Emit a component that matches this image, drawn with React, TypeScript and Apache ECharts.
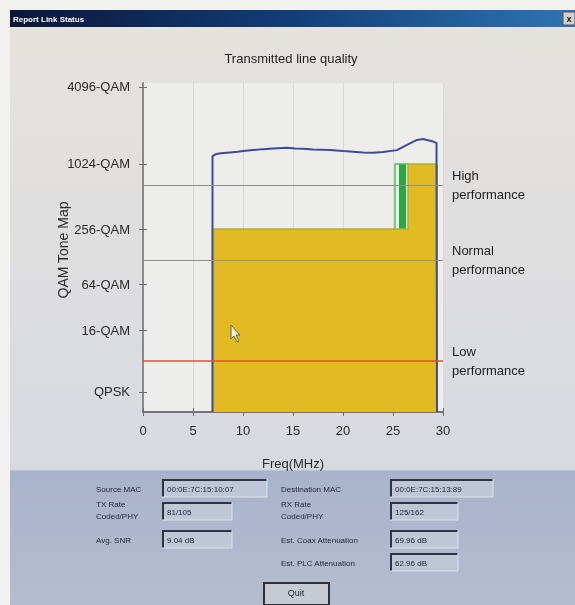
import React, { useEffect, useRef } from "react";
import * as echarts from "echarts";

// ---- data ----
const qamLabels = ["QPSK", "16-QAM", "64-QAM", "256-QAM", "1024-QAM", "4096-QAM"];
// position of each modulation level on the tone-map scale (0..100)
const qamAxisValues = [6.1, 24.9, 38.9, 55.6, 75.4, 98.8];
const xTicks = [0, 5, 10, 15, 20, 25, 30];

// capacity curve (blue)
const capacityFreq = [6.95, 6.95, 7.3, 8, 8.7, 9.5, 10, 11, 12, 13, 14.4, 15.2, 16, 17, 18.7, 20, 21, 22, 23, 24, 25.4, 26.4, 27.4, 28, 29, 29.35, 29.4];
const capacityLevel = [0, 77.8, 78.4, 78.7, 78.9, 79.1, 79.3, 79.6, 79.9, 80.1, 80.3, 80.1, 80.0, 79.8, 79.6, 79.3, 79.1, 78.9, 78.8, 79.0, 79.6, 81.2, 82.7, 83.0, 82.2, 81.8, 0];

// transmitted tone map (yellow)
const toneFreq = [6.95, 6.95, 26.5, 26.5, 29.4, 29.4];
const toneLevel = [0, 55.6, 55.6, 75.4, 75.4, 0];

// green carriers
const greenFreq = [25.6, 25.6, 26.3, 26.3];
const greenLevel = [0, 75.4, 75.4, 0];
const greenEdgeFreq = [25.2, 25.2, 26.5];
const greenEdgeLevel = [55.6, 75.4, 75.4];

// performance thresholds
const thresholdNames = ["High\nperformance", "Normal\nperformance", "Low\nperformance"];
const thresholdLevels = [69.0, 46.2, 15.5];

// status fields
const leftFieldLabels = ["Source MAC", "TX Rate\nCoded/PHY", "Avg. SNR"];
const leftFieldValues = ["00:0E:7C:15:10:07", "81/105", "9.04 dB"];
const rightFieldLabels = ["Destination MAC", "RX Rate\nCoded/PHY", "Est. Coax Attenuation", "Est. PLC Attenuation"];
const rightFieldValues = ["00:0E:7C:15:13:89", "125/162", "69.96 dB", "62.96 dB"];

const zip = (xs: number[], ys: number[]) => xs.map((x, i) => [x, ys[i]]);

const FONT = "Liberation Sans, Arial, sans-serif";

function sunkenBox(x: number, y: number, w: number, h: number, text: string) {
  return [
    { type: "rect", z: -50, shape: { x, y, width: w, height: h }, style: { fill: "#BEC6D8" } },
    { type: "line", z: -49, shape: { x1: x, y1: y + 1, x2: x + w, y2: y + 1 }, style: { stroke: "#2C3446", lineWidth: 2 } },
    { type: "line", z: -49, shape: { x1: x + 1, y1: y, x2: x + 1, y2: y + h }, style: { stroke: "#2C3446", lineWidth: 2 } },
    { type: "line", z: -49, shape: { x1: x, y1: y + h, x2: x + w, y2: y + h }, style: { stroke: "#DDE2EC", lineWidth: 1 } },
    { type: "line", z: -49, shape: { x1: x + w, y1: y, x2: x + w, y2: y + h }, style: { stroke: "#DDE2EC", lineWidth: 1 } },
    { type: "text", z: -48, x: x + 5, y: y + h / 2 + 1, style: { text, fill: "#20263A", font: `8px ${FONT}`, verticalAlign: "middle" } },
  ];
}

export default function App() {
  const ref = useRef<HTMLDivElement>(null);
  useEffect(() => {
    if (!ref.current) return;
    const chart = echarts.init(ref.current, undefined, { renderer: "svg" });

    const labelFor = (v: number) => {
      const i = qamAxisValues.findIndex((q) => Math.abs(q - v) < 0.01);
      return i >= 0 ? qamLabels[i] : "";
    };

    const graphics: any[] = [
      { type: "rect", z: -100, shape: { x: 0, y: 0, width: 575, height: 605 }, style: { fill: "#F1F1F0" } },
      {
        type: "rect", z: -99, shape: { x: 10, y: 10, width: 565, height: 595 },
        style: {
          fill: new echarts.graphic.LinearGradient(0, 0, 0, 1, [
            { offset: 0, color: "#E6E3DE" },
            { offset: 0.75, color: "#D8DAE0" },
            { offset: 1, color: "#D2D6E0" },
          ]),
        },
      },
      {
        type: "rect", z: -98, shape: { x: 10, y: 10, width: 565, height: 17 },
        style: {
          fill: new echarts.graphic.LinearGradient(0, 0, 1, 0, [
            { offset: 0, color: "#0B1638" },
            { offset: 0.5, color: "#123E78" },
            { offset: 1, color: "#2E74B4" },
          ]),
        },
      },
      { type: "text", z: -97, x: 13, y: 19, style: { text: "Report Link Status", fill: "#FFFFFF", font: `bold 8px ${FONT}`, verticalAlign: "middle" } },
      { type: "rect", z: -97, shape: { x: 563, y: 12, width: 12, height: 13 }, style: { fill: "#D0D0D0", stroke: "#555", lineWidth: 1 } },
      { type: "text", z: -96, x: 569, y: 19, style: { text: "x", fill: "#111", font: `bold 9px ${FONT}`, align: "center", verticalAlign: "middle" } },
      // bottom panel
      {
        type: "rect", z: -90, shape: { x: 10, y: 470, width: 565, height: 135 },
        style: {
          fill: new echarts.graphic.LinearGradient(0, 0, 0, 1, [
            { offset: 0, color: "#A9B3CB" },
            { offset: 1, color: "#B4BCCF" },
          ]),
        },
      },
      { type: "line", z: -89, shape: { x1: 10, y1: 470, x2: 575, y2: 470 }, style: { stroke: "#C8D4DC", lineWidth: 1 } },
      // y axis name
      {
        type: "text", z: 10, x: 63, y: 250, rotation: Math.PI / 2,
        style: { text: "QAM Tone Map", fill: "#2A2A2A", font: `14px ${FONT}`, align: "center", verticalAlign: "middle" },
      },
      // cursor
      {
        type: "polygon", z: 20,
        shape: { points: [[231, 325], [231, 339], [234, 336], [237, 342], [239, 341], [236, 335], [240, 335]] },
        style: { fill: "#F4EFD8", stroke: "#6A6040", lineWidth: 1 },
      },
      // quit button
      { type: "rect", z: -50, shape: { x: 264, y: 583, width: 65, height: 22 }, style: { fill: "#C6CAD4", stroke: "#2C3038", lineWidth: 2 } },
      { type: "text", z: -49, x: 296, y: 593, style: { text: "Quit", fill: "#1E2230", font: `9px ${FONT}`, align: "center", verticalAlign: "middle" } },
    ];

    const leftBoxes = [
      { ly: 489, by: 479, w: 105 },
      { ly: 510, by: 502, w: 70 },
      { ly: 540, by: 530, w: 70 },
    ];
    leftFieldLabels.forEach((t, i) => {
      graphics.push({ type: "text", z: -50, x: 96, y: leftBoxes[i].ly, style: { text: t, fill: "#1E2438", font: `8px ${FONT}`, verticalAlign: "middle", lineHeight: 12 } });
      graphics.push(...sunkenBox(162, leftBoxes[i].by, leftBoxes[i].w, 18, leftFieldValues[i]));
    });
    const rightBoxes = [
      { ly: 489, by: 479, w: 103 },
      { ly: 510, by: 502, w: 68 },
      { ly: 540, by: 530, w: 68 },
      { ly: 563, by: 553, w: 68 },
    ];
    rightFieldLabels.forEach((t, i) => {
      graphics.push({ type: "text", z: -50, x: 281, y: rightBoxes[i].ly, style: { text: t, fill: "#1E2438", font: `8px ${FONT}`, verticalAlign: "middle", lineHeight: 12 } });
      graphics.push(...sunkenBox(390, rightBoxes[i].by, rightBoxes[i].w, 18, rightFieldValues[i]));
    });

    const axisLabelStyle = { color: "#2A2A2A", fontSize: 13, fontFamily: FONT };

    chart.setOption({
      animation: false,
      textStyle: { fontFamily: FONT },
      title: {
        text: "Transmitted line quality",
        left: 286,
        textAlign: "center",
        top: 47,
        textStyle: { fontSize: 13, fontWeight: "normal", color: "#1E1E1E", fontFamily: FONT },
      },
      graphic: graphics,
      grid: {
        left: 143, right: 132, top: 83, bottom: 193,
        show: true, backgroundColor: "#EDEDEB", borderWidth: 0,
      },
      xAxis: [
        {
          type: "value", min: 0, max: 30, interval: 5,
          axisLine: { show: true, lineStyle: { color: "#6E6E6E", width: 1.5 } },
          axisTick: { show: true, inside: true, length: 4, lineStyle: { color: "#6E6E6E" } },
          axisLabel: { ...axisLabelStyle, margin: 12, formatter: (v: number) => (xTicks.includes(v) ? String(v) : "") },
          splitLine: { show: true, lineStyle: { color: "#D9D9D9", width: 1 } },
          name: "Freq(MHz)", nameLocation: "middle", nameGap: 45,
          nameTextStyle: { color: "#2A2A2A", fontSize: 13, fontFamily: FONT },
        },
        {
          type: "value", min: 0, max: 30, interval: 5, position: "top",
          axisLine: { show: true, lineStyle: { color: "#6E6E6E", width: 1.5 } },
          axisTick: { show: true, inside: true, length: 4, lineStyle: { color: "#6E6E6E" } },
          axisLabel: { show: false },
          splitLine: { show: false },
        },
      ],
      yAxis: [
        {
          type: "value", min: 0, max: 100,
          axisLine: { show: true, lineStyle: { color: "#6E6E6E", width: 1.5 } },
          axisTick: { show: true, inside: true, length: 4, customValues: qamAxisValues, lineStyle: { color: "#6E6E6E" } },
          axisLabel: { ...axisLabelStyle, margin: 13, customValues: qamAxisValues, formatter: labelFor },
          splitLine: { show: false },
        },
        {
          type: "value", min: 0, max: 100, position: "right",
          axisLine: { show: true, lineStyle: { color: "#8A8A8A", width: 1.5 } },
          axisTick: { show: true, inside: true, length: 4, customValues: qamAxisValues, lineStyle: { color: "#6E6E6E" } },
          axisLabel: { show: false },
          splitLine: { show: false },
        },
      ],
      series: [
        {
          type: "line", name: "green", z: 2, data: zip(greenFreq, greenLevel),
          symbol: "none", lineStyle: { width: 0 }, areaStyle: { color: "#27A843", opacity: 1 },
        },
        {
          type: "line", name: "greenEdge", z: 2, data: zip(greenEdgeFreq, greenEdgeLevel),
          symbol: "none", lineStyle: { width: 1.5, color: "#4CC15A" },
        },
        {
          type: "line", name: "tone", z: 3, data: zip(toneFreq, toneLevel),
          symbol: "none", lineStyle: { width: 1.5, color: "#A8B233" }, areaStyle: { color: "#E2BA22", opacity: 1 },
        },
        {
          type: "line", name: "capacity", z: 5, data: zip(capacityFreq, capacityLevel),
          symbol: "none", lineStyle: { width: 2, color: "#3D4C96" },
          markLine: {
            silent: true, symbol: ["none", "none"], z: 6,
            data: thresholdLevels.map((lv, i) => ({
              yAxis: lv,
              lineStyle: i === 2 ? { color: "#E2502C", width: 1.5, type: "solid" } : { color: "#8E8E8E", width: 1, type: "solid" },
              label: {
                show: true, position: "end", distance: 9, formatter: thresholdNames[i],
                color: "#222", fontSize: 13, lineHeight: 19, fontFamily: FONT, align: "left",
              },
            })),
          },
        },
      ],
    });
    return () => chart.dispose();
  }, []);
  return <div ref={ref} style={{ position: "fixed", left: 0, top: 0, width: 575, height: 605 }} />;
}
